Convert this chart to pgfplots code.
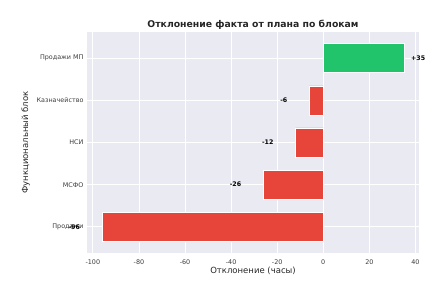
\documentclass[border=0pt]{standalone}
\usepackage{fontspec}
\setmainfont{DejaVu Sans}
\usepackage{pgfplots}
\pgfplotsset{compat=1.18}
\definecolor{bgc}{HTML}{EAEAF2}
\definecolor{posc}{HTML}{22C46B}
\definecolor{negc}{HTML}{E8453A}
\definecolor{txt}{HTML}{262626}
\begin{document}
\begin{tikzpicture}
\begin{axis}[
  scale only axis,
  width=332pt, height=221pt,
  xbar, bar width=29pt,
  xmin=-102.55, xmax=41.55,
  ymin=-0.62, ymax=4.62,
  axis background/.style={fill=bgc},
  axis line style={draw=none},
  major tick length=0pt,
  xtick={-100,-80,-60,-40,-20,0,20,40},
  ytick={0,1,2,3,4},
  yticklabels={Продажи,МСФО,НСИ,Казначейство,Продажи МП},
  grid=major,
  major grid style={white, line width=0.8pt},
  extra x ticks={0},
  extra x tick labels={},
  extra x tick style={grid style={gray!80, line width=0.9pt}},
  /pgf/number format/assume math mode=true,
  tick label style={font=\fontsize{6.4}{7}\selectfont, text=txt!90},
  xticklabel style={yshift=-3pt},
  title={\bfseries Отклонение факта от плана по блокам},
  title style={font=\fontsize{9.3}{11}\selectfont, text=txt, yshift=-7pt},
  xlabel={Отклонение (часы)},
  ylabel={Функциональный блок},
  xlabel style={font=\fontsize{8.5}{10}\selectfont, text=txt, yshift=4pt},
  ylabel style={font=\fontsize{8.5}{10}\selectfont, text=txt, yshift=0pt},
  clip=false,
  nodes near coords,
  every node near coord/.append style={font=\fontsize{6.3}{7}\selectfont\bfseries, text=black, inner sep=0pt},
]
\addplot[fill=negc, draw=white, line width=0.4pt, bar shift=0pt,
  every node near coord/.append style={anchor=east, xshift=-22pt},
  nodes near coords={\pgfmathprintnumber{\pgfplotspointmeta}}]
  coordinates {(-96,0) (-26,1) (-12,2) (-6,3)};
\addplot[fill=posc, draw=white, line width=0.4pt, bar shift=0pt,
  every node near coord/.append style={anchor=west, xshift=7pt},
  nodes near coords={+\pgfmathprintnumber{\pgfplotspointmeta}}]
  coordinates {(35,4)};
\end{axis}
\path (current axis.south west) ++(-87pt,-36pt) coordinate (bl);
\path (current axis.north east) ++(19pt,32pt) coordinate (tr);
\path (bl) rectangle (tr);
\end{tikzpicture}
\end{document}
